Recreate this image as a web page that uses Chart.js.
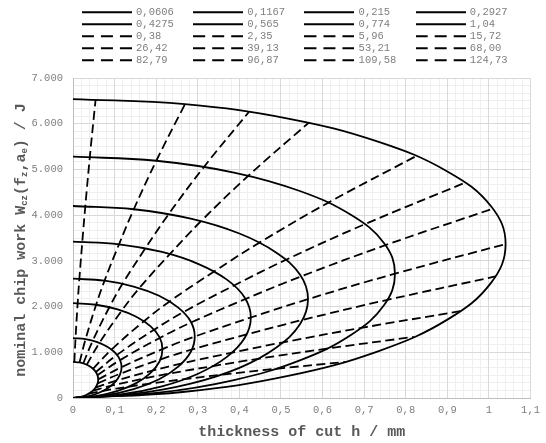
<!DOCTYPE html>
<html>
<head>
<meta charset="utf-8">
<script src="https://cdn.jsdelivr.net/npm/chart.js@4/dist/chart.umd.min.js"></script>
<style>
  html, body { margin: 0; padding: 0; background: #fff; }
</style>
</head>
<body>
<canvas id="chart" width="546" height="443"></canvas>
<script>
// legend labels
const solidLabels = ['0,0606', '0,1167', '0,215', '0,2927', '0,4275', '0,565', '0,774', '1,04'];
const dashLabels = ['0,38', '2,35', '5,96', '15,72', '26,42', '39,13', '53,21', '68,00', '82,79', '96,87', '109,58', '124,73'];

// solid curves: h / mm and W / J, read from the origin round to the top
const s0606_h = [0, 0.0157, 0.0303, 0.0429, 0.0525, 0.0585, 0.0606, 0.0585, 0.0525, 0.0429, 0.0303, 0.0157, 0];
const s0606_w = [0, 17, 59, 124, 208, 304, 407, 507, 598, 677, 738, 777, 790];
const s1167_h = [0, 0.0302, 0.0584, 0.0825, 0.101, 0.1127, 0.1167, 0.1127, 0.101, 0.0825, 0.0584, 0.0302, 0];
const s1167_w = [0, 27, 98, 206, 345, 504, 675, 840, 992, 1122, 1224, 1288, 1310];
const s215_h  = [0, 0.0556, 0.1075, 0.152, 0.186, 0.208, 0.215, 0.208, 0.186, 0.152, 0.1075, 0.0556, 0];
const s215_w  = [0, 43, 155, 326, 546, 799, 1069, 1331, 1571, 1777, 1938, 2040, 2075];
const s2927_h = [0, 0.0758, 0.146, 0.207, 0.253, 0.283, 0.2927, 0.283, 0.253, 0.207, 0.146, 0.0758, 0];
const s2927_w = [0, 55, 194, 410, 686, 1005, 1344, 1674, 1976, 2236, 2438, 2566, 2610];
const s4275_h = [0, 0.111, 0.214, 0.302, 0.370, 0.413, 0.4275, 0.413, 0.370, 0.302, 0.214, 0.111, 0];
const s4275_w = [0, 71, 255, 537, 899, 1317, 1761, 2194, 2589, 2930, 3194, 3362, 3420];
const s565_h  = [0, 0.146, 0.283, 0.400, 0.489, 0.546, 0.565, 0.546, 0.489, 0.400, 0.283, 0.146, 0];
const s565_w  = [0, 88, 313, 659, 1105, 1617, 2163, 2694, 3179, 3598, 3923, 4129, 4200];
const s774_h  = [0, 0.200, 0.387, 0.547, 0.670, 0.748, 0.774, 0.748, 0.670, 0.547, 0.387, 0.200, 0];
const s774_w  = [0, 110, 393, 829, 1389, 2033, 2719, 3387, 3997, 4523, 4932, 5190, 5280];
const s104_h  = [0, 0.269, 0.52, 0.735, 0.901, 1.005, 1.04, 1.005, 0.901, 0.735, 0.52, 0.269, 0];
const s104_w  = [0, 137, 487, 1027, 1720, 2519, 3368, 4195, 4951, 5602, 6108, 6429, 6540];

// dashed curves: where each one crosses the solid curves, smallest to largest
const d038_h   = [0.0032, 0.0061, 0.0112, 0.0153, 0.0224, 0.0296, 0.0405, 0.0544];
const d038_w   = [789, 1309, 2074, 2608, 3418, 4197, 5276, 6535];
const d235_h   = [0.0157, 0.0302, 0.0556, 0.0758, 0.1106, 0.1462, 0.2003, 0.2692];
const d235_w   = [777, 1288, 2040, 2566, 3362, 4129, 5190, 6429];
const d596_h   = [0.0247, 0.0475, 0.0874, 0.1190, 0.1739, 0.2298, 0.3148, 0.4230];
const d596_w   = [756, 1254, 1986, 2498, 3274, 4020, 5054, 6260];
const d1572_h  = [0.0330, 0.0636, 0.1171, 0.1594, 0.2328, 0.3077, 0.4215, 0.5664];
const d1572_w  = [727, 1206, 1910, 2403, 3149, 3867, 4861, 6021];
const d2642_h  = [0.0481, 0.0926, 0.1706, 0.2322, 0.3392, 0.4483, 0.6141, 0.8251];
const d2642_w  = [639, 1060, 1680, 2113, 2768, 3399, 4274, 5293];
const d3913_h  = [0.0549, 0.1058, 0.1949, 0.2653, 0.3874, 0.5121, 0.7015, 0.9426];
const d3913_w  = [569, 943, 1494, 1879, 2462, 3024, 3802, 4709];
const d5321_h  = [0.0588, 0.1132, 0.2086, 0.2840, 0.4148, 0.5482, 0.7510, 1.0091];
const d5321_w  = [500, 829, 1314, 1653, 2166, 2659, 3343, 4141];
const d6800_h  = [0.0606, 0.1167, 0.215, 0.2927, 0.4275, 0.565, 0.774, 1.04];
const d6800_w  = [407, 675, 1069, 1344, 1761, 2163, 2719, 3368];
const d8279_h  = [0.0592, 0.1139, 0.2099, 0.2858, 0.4174, 0.5516, 0.7557, 1.0154];
const d8279_w  = [321, 532, 843, 1061, 1390, 1707, 2146, 2658];
const d9687_h  = [0.0542, 0.1044, 0.1924, 0.2619, 0.3826, 0.5056, 0.6927, 0.9307];
const d9687_w  = [229, 380, 602, 758, 993, 1219, 1533, 1899];
const d10958_h = [0.0478, 0.0920, 0.1694, 0.2306, 0.3369, 0.4452, 0.6099, 0.8195];
const d10958_w = [161, 268, 424, 533, 699, 858, 1079, 1337];
const d12473_h = [0.0381, 0.0734, 0.1353, 0.1842, 0.2690, 0.3556, 0.4871, 0.6545];
const d12473_w = [95, 158, 251, 315, 413, 507, 638, 790];

const solidCurves = [
  [s0606_h, s0606_w], [s1167_h, s1167_w], [s215_h, s215_w], [s2927_h, s2927_w],
  [s4275_h, s4275_w], [s565_h, s565_w], [s774_h, s774_w], [s104_h, s104_w]
];
const dashCurves = [
  [d038_h, d038_w], [d235_h, d235_w], [d596_h, d596_w], [d1572_h, d1572_w],
  [d2642_h, d2642_w], [d3913_h, d3913_w], [d5321_h, d5321_w], [d6800_h, d6800_w],
  [d8279_h, d8279_w], [d9687_h, d9687_w], [d10958_h, d10958_w], [d12473_h, d12473_w]
];

const MONO = "'Liberation Mono', 'Courier New', monospace";

const toPts = (hs, ws) => hs.map((h, i) => ({x: h, y: ws[i]}));

const datasets = [];
solidCurves.forEach((c, i) => datasets.push({
  label: solidLabels[i], data: toPts(c[0], c[1]), dashed: false,
  borderColor: '#000', borderWidth: 1.8, pointRadius: 0, showLine: true, tension: 0.4, fill: false
}));
dashCurves.forEach((c, i) => datasets.push({
  label: dashLabels[i], data: toPts(c[0], c[1]), dashed: true,
  borderColor: '#000', borderWidth: 1.8, borderDash: [9, 4.5], pointRadius: 0, showLine: true, tension: 0.4, fill: false
}));

// little line images for the legend
const lineIcon = dashed => {
  const c = document.createElement('canvas');
  c.width = 50; c.height = 4;
  const g = c.getContext('2d');
  g.strokeStyle = '#000'; g.lineWidth = 2;
  if (dashed) g.setLineDash([12, 7]);
  g.beginPath(); g.moveTo(0, 2); g.lineTo(50, 2); g.stroke();
  return c;
};
const solidIcon = lineIcon(false), dashIcon = lineIcon(true);

// y title with subscripts
const yTitlePlugin = {
  id: 'yTitle',
  afterDraw(chart) {
    const ctx = chart.ctx;
    const parts = [['nominal chip work W', 0], ['cz', 1], ['(f', 0], ['z', 1], [',a', 0], ['e', 1], [') / J', 0]];
    const big = 'bold 15px ' + MONO, small = 'bold 9px ' + MONO;
    ctx.save();
    let total = 0;
    parts.forEach(p => { ctx.font = p[1] ? small : big; total += ctx.measureText(p[0]).width; });
    ctx.translate(20, 240);
    ctx.rotate(-Math.PI / 2);
    ctx.fillStyle = '#595959';
    ctx.textBaseline = 'alphabetic';
    let x = -total / 2;
    parts.forEach(p => {
      ctx.font = p[1] ? small : big;
      ctx.fillText(p[0], x, p[1] ? 7 : 5);
      x += ctx.measureText(p[0]).width;
    });
    ctx.restore();
  }
};

// legend: taller box so the plot starts lower, nudged 3px right
const legendTweakPlugin = {
  id: 'legendTweak',
  beforeLayout(chart) {
    const lg = chart.legend;
    if (lg && !lg._patched) {
      const fit = lg.fit.bind(lg);
      lg.fit = function () { fit(); this.height = 72.5; };
      const draw = lg.draw.bind(lg);
      lg.draw = function () {
        const ctx = this.ctx;
        ctx.save(); ctx.translate(3, 0); draw(); ctx.restore();
      };
      lg._patched = true;
    }
  }
};

const gridMinor = every => ({
  color: c => (c.index % every === 0 ? 'rgba(0,0,0,0)' : '#efefef'),
  drawTicks: false
});

new Chart(document.getElementById('chart'), {
  type: 'scatter',
  data: { datasets },
  plugins: [yTitlePlugin, legendTweakPlugin],
  options: {
    responsive: false,
    animation: false,
    layout: { padding: { top: 5.5, right: 11, left: 0, bottom: 0 } },
    plugins: {
      tooltip: { enabled: false },
      legend: {
        position: 'top',
        fullSize: false,
        labels: {
          usePointStyle: true,
          pointStyleWidth: 47.8,
          padding: 1.5,
          color: '#7f7f7f',
          font: { family: MONO, size: 10.5 },
          generateLabels(chart) {
            return chart.data.datasets.map((ds, i) => ({
              text: ds.label.padEnd(9, ' '),
              pointStyle: ds.dashed ? dashIcon : solidIcon,
              fillStyle: '#000', strokeStyle: '#000', lineWidth: 0,
              hidden: false, datasetIndex: i, fontColor: '#7f7f7f'
            }));
          }
        }
      }
    },
    scales: {
      xMinor: {
        type: 'linear', position: 'bottom', min: 0, max: 1.1,
        ticks: { display: false, stepSize: 0.02 },
        grid: gridMinor(5), border: { display: false },
        afterFit(s) { s.height = 0; }
      },
      yMinor: {
        type: 'linear', position: 'left', min: 0, max: 7000,
        ticks: { display: false, stepSize: 1000 / 6 },
        grid: gridMinor(6), border: { display: false },
        afterFit(s) { s.width = 0; }
      },
      x: {
        type: 'linear', position: 'bottom', min: 0, max: 1.1,
        ticks: {
          stepSize: 0.1, padding: 6, color: '#7f7f7f',
          font: { family: MONO, size: 10.5 },
          callback: v => (Math.abs(v) < 1e-9 ? '0' : String(+v.toFixed(1)).replace('.', ','))
        },
        grid: { color: '#d9d9d9', drawTicks: false },
        border: { color: '#bfbfbf' },
        title: {
          display: true, text: 'thickness of cut h / mm', color: '#595959',
          font: { family: MONO, size: 15, weight: 'bold' }, padding: { top: 2, bottom: 2 }
        },
        afterFit(s) { s.height = 45; }
      },
      y: {
        type: 'linear', position: 'left', min: 0, max: 7000,
        ticks: {
          stepSize: 1000, padding: 10, color: '#7f7f7f',
          font: { family: MONO, size: 10.5 },
          callback: v => (v === 0 ? '0' : (v / 1000) + '.000')
        },
        grid: { color: '#d9d9d9', drawTicks: false },
        border: { color: '#bfbfbf' },
        afterFit(s) { s.width = 73; }
      }
    }
  }
});
</script>
</body>
</html>
